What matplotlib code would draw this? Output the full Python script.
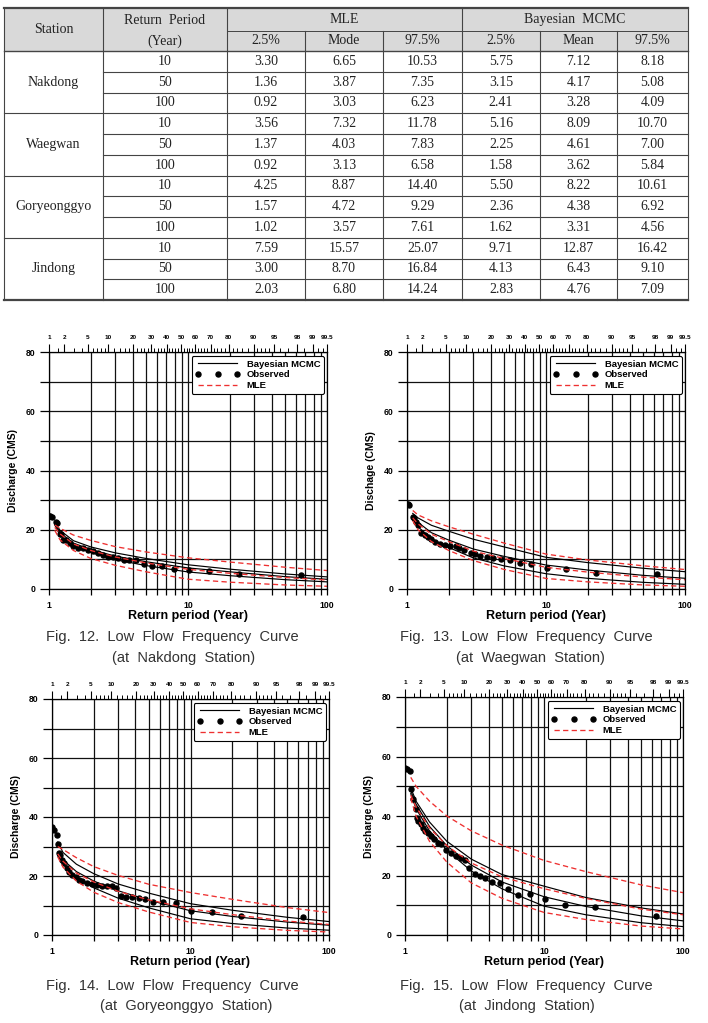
import numpy as np
import matplotlib.pyplot as plt
from statistics import NormalDist

# ---------------- table data ----------------
stations = ['Nakdong', 'Waegwan', 'Goryeonggyo', 'Jindong']
periods = [10, 50, 100]
mle_lo_tab = [[3.30, 1.36, 0.92], [3.56, 1.37, 0.92], [4.25, 1.57, 1.02], [7.59, 3.00, 2.03]]
mle_mode_tab = [[6.65, 3.87, 3.03], [7.32, 4.03, 3.13], [8.87, 4.72, 3.57], [15.57, 8.70, 6.80]]
mle_hi_tab = [[10.53, 7.35, 6.23], [11.78, 7.83, 6.58], [14.40, 9.29, 7.61], [25.07, 16.84, 14.24]]
bay_lo_tab = [[5.75, 3.15, 2.41], [5.16, 2.25, 1.58], [5.50, 2.36, 1.62], [9.71, 4.13, 2.83]]
bay_mean_tab = [[7.12, 4.17, 3.28], [8.09, 4.61, 3.62], [8.22, 4.38, 3.31], [12.87, 6.43, 4.76]]
bay_hi_tab = [[8.18, 5.08, 4.09], [10.70, 7.00, 5.84], [10.61, 6.92, 4.56], [16.42, 9.10, 7.09]]

# ---------------- curve data ----------------
T_curve = [1.1, 1.2, 1.5, 2, 3, 5, 10, 20, 50, 100]

nak_bay_hi = [22.7, 19.8, 16.3, 14.2, 12.2, 10.3, 8.18, 6.7, 5.08, 4.09]
nak_bay_mean = [22.2, 19.0, 15.5, 13.3, 11.1, 9.2, 7.12, 5.8, 4.17, 3.28]
nak_bay_lo = [21.6, 18.2, 14.6, 12.3, 9.9, 7.9, 5.75, 4.5, 3.15, 2.41]
nak_mle_hi = [21.6, 20.5, 18.2, 16.4, 14.3, 12.5, 10.53, 9.1, 7.35, 6.23]
nak_mle_mode = [20.8, 18.6, 15.2, 13.0, 10.8, 8.8, 6.65, 5.3, 3.87, 3.03]
nak_mle_lo = [19.8, 16.6, 13.0, 10.3, 8.0, 5.8, 3.30, 2.3, 1.36, 0.92]

wae_bay_hi = [25.5, 24.0, 21.5, 19.5, 16.8, 14.2, 10.70, 8.9, 7.00, 5.84]
wae_bay_mean = [24.5, 22.5, 19.0, 16.5, 13.5, 11.0, 8.09, 6.4, 4.61, 3.62]
wae_bay_lo = [23.5, 21.0, 17.0, 14.0, 10.5, 7.8, 5.16, 3.6, 2.25, 1.58]
wae_mle_hi = [26.5, 25.0, 23.0, 21.0, 18.5, 15.5, 11.78, 9.8, 7.83, 6.58]
wae_mle_mode = [24.0, 22.0, 18.5, 16.0, 12.8, 10.3, 7.32, 5.7, 4.03, 3.13]
wae_mle_lo = [23.0, 20.0, 16.0, 13.0, 9.6, 6.6, 3.56, 2.4, 1.37, 0.92]

gor_bay_hi = [31.5, 28.0, 24.0, 20.8, 17.3, 14.2, 10.61, 8.4, 6.0, 4.56]
gor_bay_mean = [28.0, 25.5, 21.5, 18.3, 15.0, 11.8, 8.22, 6.3, 4.38, 3.31]
gor_bay_lo = [27.0, 24.0, 19.5, 16.0, 12.5, 9.2, 5.50, 3.9, 2.36, 1.62]
gor_mle_hi = [30.0, 29.0, 26.2, 23.2, 20.2, 17.2, 14.40, 12.1, 9.29, 7.61]
gor_mle_mode = [27.5, 25.0, 21.0, 18.0, 14.8, 11.9, 8.87, 6.9, 4.72, 3.57]
gor_mle_lo = [26.5, 23.0, 18.3, 14.5, 11.0, 7.8, 4.25, 2.8, 1.57, 1.02]

jin_bay_hi = [49.5, 45.0, 38.0, 31.5, 25.5, 20.3, 16.42, 12.6, 9.10, 7.09]
jin_bay_mean = [48.5, 44.0, 36.5, 30.0, 23.5, 17.8, 12.87, 9.6, 6.43, 4.76]
jin_bay_lo = [47.5, 42.5, 35.0, 28.5, 21.5, 15.5, 9.71, 6.8, 4.13, 2.83]
jin_mle_hi = [53.0, 50.0, 45.0, 40.0, 35.0, 30.2, 25.07, 21.3, 16.84, 14.24]
jin_mle_mode = [47.0, 43.0, 36.0, 30.0, 24.2, 19.5, 15.57, 12.3, 8.70, 6.80]
jin_mle_lo = [46.0, 40.0, 31.5, 24.5, 17.5, 12.3, 7.59, 5.2, 3.00, 2.03]

# observed low flows (plotting position, discharge)
nak_obs_T = [1.0, 1.02, 1.05, 1.13, 1.15, 1.19, 1.22, 1.26, 1.33, 1.41, 1.49, 1.62, 1.76, 1.91, 2.07,
             2.25, 2.45, 2.66, 2.89, 3.13, 3.44, 3.76, 4.2, 4.79, 5.5, 6.5, 7.9, 10.1, 14.1, 23.1, 64.5]
nak_obs_Q = [24.6, 24.5, 24.2, 22.5, 22.3, 18.7, 18.4, 16.7, 16.5, 15.6, 14.6, 13.7, 13.7, 13.3, 12.9,
             12.3, 11.6, 10.8, 10.8, 10.5, 9.7, 9.7, 9.9, 8.6, 7.9, 7.8, 6.9, 6.3, 6.1, 5.0, 4.6]

wae_obs_T = [1.0, 1.02, 1.04, 1.1, 1.12, 1.17, 1.2, 1.27, 1.34, 1.42, 1.5, 1.58, 1.72, 1.87, 2.03,
             2.27, 2.38, 2.56, 2.87, 3.1, 3.37, 3.77, 4.15, 4.77, 5.5, 6.47, 7.86, 10.1, 14.0, 23.0, 63.0]
wae_obs_Q = [28.7, 28.6, 28.3, 24.4, 23.8, 22.7, 21.6, 18.8, 18.2, 17.4, 16.8, 16.0, 15.2, 14.7, 14.5,
             14.4, 13.7, 13.1, 12.3, 11.7, 11.1, 10.8, 10.5, 10.0, 9.9, 8.8, 8.4, 7.1, 6.8, 5.4, 5.0]

gor_obs_T = [1.0, 1.04, 1.08, 1.1, 1.12, 1.15, 1.19, 1.23, 1.28, 1.33, 1.4, 1.48, 1.57, 1.66, 1.8,
             1.95, 2.1, 2.3, 2.5, 2.73, 2.9, 3.13, 3.4, 3.8, 4.25, 4.7, 5.4, 6.3, 7.9, 10.1, 14.2, 23.3, 65.0]
gor_obs_Q = [36.7, 35.6, 33.9, 31.0, 27.7, 27.1, 25.4, 24.3, 22.6, 21.4, 20.3, 19.5, 18.8, 18.3, 17.5,
             17.2, 16.9, 16.7, 16.6, 16.6, 16.1, 13.2, 13.0, 12.8, 12.4, 12.2, 11.1, 11.1, 10.7, 8.0, 7.9, 6.3, 6.2]

jin_obs_T = [1.0, 1.03, 1.08, 1.11, 1.14, 1.19, 1.23, 1.25, 1.3, 1.35, 1.4, 1.46, 1.55, 1.63, 1.73,
             1.83, 1.98, 2.15, 2.34, 2.54, 2.69, 2.87, 3.17, 3.45, 3.78, 4.22, 4.8, 5.5, 6.5, 7.97, 10.1,
             14.1, 23.1, 64.0]
jin_obs_Q = [56.3, 55.7, 55.2, 49.0, 45.6, 42.2, 39.4, 38.3, 37.2, 36.0, 35.1, 34.3, 33.4, 32.3, 31.0,
             30.7, 28.7, 27.6, 26.7, 25.9, 25.3, 22.5, 20.6, 20.0, 19.1, 17.7, 17.5, 15.4, 13.5, 13.7, 12.0,
             10.1, 9.3, 6.5]

# top probability axis (%)
top_probs = [1, 2, 5, 10, 20, 30, 40, 50, 60, 70, 80, 90, 95, 98, 99, 99.5]
top_minor = [1.5, 3, 4, 6, 7, 8, 9, 12, 14, 16, 18, 22, 24, 26, 28, 32, 34, 36, 38, 42, 44, 46, 48,
             52, 54, 56, 58, 62, 64, 66, 68, 72, 74, 76, 78, 82, 84, 86, 88, 91, 92, 93, 94, 96, 97,
             98.5, 99.2, 99.4]

W, H = 708, 1023
plt.rcParams['font.family'] = ['Liberation Sans', 'DejaVu Sans']
plt.rcParams['font.weight'] = 'bold'
fig = plt.figure(figsize=(W / 100, H / 100), dpi=100)

# ---------------- table ----------------
tab = fig.add_axes([0, 0, 1, 1])
tab.set_xlim(0, W)
tab.set_ylim(H, 0)
tab.axis('off')

col_x = [4, 103, 227, 305, 383, 462, 540, 617, 688]
y_top, y_mid, y_head = 8, 31, 51
row_h = (300 - y_head) / 12.0
y_bot = y_head + 12 * row_h
lc = '#444444'
tfont = dict(family='Liberation Serif', weight='normal', size=10, color='#222222',
             ha='center', va='center')

tab.fill_between([col_x[0], col_x[-1]], y_top, y_head, color='#d9d9d9', lw=0)
tab.plot([col_x[0], col_x[-1]], [y_top, y_top], color=lc, lw=1.6)
tab.plot([col_x[2], col_x[-1]], [y_mid, y_mid], color=lc, lw=0.7)
tab.plot([col_x[0], col_x[-1]], [y_head, y_head], color=lc, lw=1.0)
for k in range(1, 12):
    y = y_head + k * row_h
    x0 = col_x[0] if k % 3 == 0 else col_x[1]
    tab.plot([x0, col_x[-1]], [y, y], color=lc, lw=0.8)
tab.plot([col_x[0], col_x[-1]], [y_bot, y_bot], color=lc, lw=1.6)
for i, x in enumerate(col_x):
    y0 = y_top if i in (0, 1, 2, 5, 8) else y_mid
    tab.plot([x, x], [y0, y_bot], color=lc, lw=0.8)

tab.text((col_x[0] + col_x[1]) / 2, (y_top + y_head) / 2, 'Station', **tfont)
tab.text((col_x[1] + col_x[2]) / 2, (y_top + y_mid) / 2 + 1, 'Return  Period', **tfont)
tab.text((col_x[1] + col_x[2]) / 2, (y_mid + y_head) / 2, '(Year)', **tfont)
tab.text((col_x[2] + col_x[5]) / 2, (y_top + y_mid) / 2, 'MLE', **tfont)
tab.text((col_x[5] + col_x[8]) / 2, (y_top + y_mid) / 2, 'Bayesian  MCMC', **tfont)
sub_heads = ['2.5%', 'Mode', '97.5%', '2.5%', 'Mean', '97.5%']
for j, s in enumerate(sub_heads):
    tab.text((col_x[j + 2] + col_x[j + 3]) / 2, (y_mid + y_head) / 2, s, **tfont)

for si, st in enumerate(stations):
    tab.text((col_x[0] + col_x[1]) / 2, y_head + (3 * si + 1.5) * row_h, st, **tfont)
    for pi, per in enumerate(periods):
        yc = y_head + (3 * si + pi + 0.5) * row_h
        vals = [mle_lo_tab[si][pi], mle_mode_tab[si][pi], mle_hi_tab[si][pi],
                bay_lo_tab[si][pi], bay_mean_tab[si][pi], bay_hi_tab[si][pi]]
        tab.text((col_x[1] + col_x[2]) / 2, yc, str(per), **tfont)
        for j, v in enumerate(vals):
            tab.text((col_x[j + 2] + col_x[j + 3]) / 2, yc, '%.2f' % v, **tfont)

# ---------------- panels ----------------
nd = NormalDist()
red = '#ee3030'


def draw_panel(box, obs_T, obs_Q, bay, mle, ylabel):
    left, top, right, bottom = box
    ax = fig.add_axes([left / W, 1 - bottom / H, (right - left) / W, (bottom - top) / H])
    ax.set_xscale('log')
    ax.set_xlim(1, 100)
    ax.set_ylim(0, 80)
    ax.set_axisbelow(True)

    for i, q in enumerate(bay):
        ax.plot(T_curve, q, color='black', lw=0.85, label='Bayesian MCMC' if i == 0 else None)
    ax.plot(obs_T, obs_Q, 'o', color='black', ms=3.6, label='Observed')
    for i, q in enumerate(mle):
        ax.plot(T_curve, q, color=red, lw=0.95, dashes=(4, 2.5), label='MLE' if i == 0 else None)

    ax.set_xticks([1, 10, 100])
    ax.set_xticklabels(['1', '10', '100'])
    ax.xaxis.set_minor_formatter(plt.NullFormatter())
    ax.set_yticks([0, 20, 40, 60, 80])
    ax.set_yticks([10, 30, 50, 70], minor=True)
    ax.grid(True, which='both', color='#111111', lw=0.9)
    ax.tick_params(axis='x', which='both', direction='out', length=4, width=0.9,
                   labelsize=6.2, pad=4.5, top=False)
    ax.tick_params(axis='y', which='both', direction='out', length=6.5, width=0.9,
                   labelsize=6.2, pad=3)
    for sp in ax.spines.values():
        sp.set_linewidth(0.9)

    hpx = bottom - top
    ax.set_xlabel('Return period (Year)', fontsize=9, fontweight='bold')
    ax.xaxis.label.set_va('center')
    ax.xaxis.set_label_coords(0.5, -27.5 / hpx)
    ax.set_ylabel(ylabel, fontsize=7.5, fontweight='bold')
    ax.yaxis.set_label_coords(-31.0 / (right - left), 0.5)

    leg = ax.legend(loc='upper right', bbox_to_anchor=(0.995, 0.99), numpoints=3,
                    prop=dict(weight='bold', size=6.8), handlelength=4.8, handletextpad=0.7,
                    borderpad=0.35, labelspacing=0.2, fancybox=True, framealpha=1,
                    edgecolor='black', borderaxespad=0.2)
    leg.get_frame().set_linewidth(0.8)

    ax2 = ax.twiny()
    ax2.set_xlim(nd.inv_cdf(0.01), nd.inv_cdf(0.995))
    ax2.set_xticks([nd.inv_cdf(p / 100) for p in top_probs])
    ax2.set_xticklabels([('%g' % p) for p in top_probs])
    ax2.set_xticks([nd.inv_cdf(p / 100) for p in top_minor], minor=True)
    ax2.tick_params(which='major', direction='out', length=6, width=0.8, labelsize=4.6, pad=2.5)
    ax2.tick_params(which='minor', direction='out', length=3, width=0.7)
    for sp in ax2.spines.values():
        sp.set_visible(False)
    return ax


draw_panel((49, 352, 327, 589), nak_obs_T, nak_obs_Q,
           [nak_bay_hi, nak_bay_mean, nak_bay_lo], [nak_mle_hi, nak_mle_mode, nak_mle_lo],
           'Discharge (CMS)')
draw_panel((407, 352, 685, 589), wae_obs_T, wae_obs_Q,
           [wae_bay_hi, wae_bay_mean, wae_bay_lo], [wae_mle_hi, wae_mle_mode, wae_mle_lo],
           'Dischage (CMS)')
draw_panel((52, 699, 329, 935), gor_obs_T, gor_obs_Q,
           [gor_bay_hi, gor_bay_mean, gor_bay_lo], [gor_mle_hi, gor_mle_mode, gor_mle_lo],
           'Discharge (CMS)')
draw_panel((405, 697, 683, 935), jin_obs_T, jin_obs_Q,
           [jin_bay_hi, jin_bay_mean, jin_bay_lo], [jin_mle_hi, jin_mle_mode, jin_mle_lo],
           'Discharge (CMS)')

# ---------------- captions ----------------
cap = dict(fontsize=10.5, fontweight='normal', color='#333333', ha='center', va='center',
           family='Liberation Sans')
captions = [(172, 637, 'Fig.  12.  Low  Flow  Frequency  Curve'), (184, 658, '(at  Nakdong  Station)'),
            (526, 637, 'Fig.  13.  Low  Flow  Frequency  Curve'), (530, 658, '(at  Waegwan  Station)'),
            (172, 986, 'Fig.  14.  Low  Flow  Frequency  Curve'), (186, 1006, '(at  Goryeonggyo  Station)'),
            (526, 986, 'Fig.  15.  Low  Flow  Frequency  Curve'), (527, 1006, '(at  Jindong  Station)')]
for x, y, s in captions:
    fig.text(x / W, 1 - y / H, s, **cap)

fig.savefig('out.png', dpi=100)
